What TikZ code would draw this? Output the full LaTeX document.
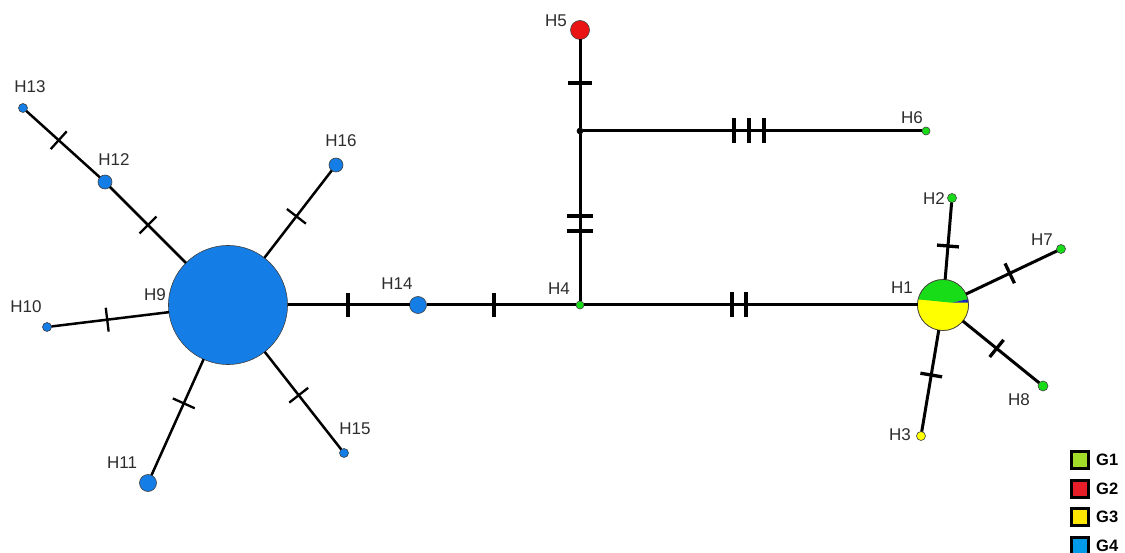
\documentclass[tikz,border=0pt]{standalone}
\usepackage{fontspec}
\setmainfont{Liberation Sans}
\usetikzlibrary{calc}
\definecolor{cgreen}{RGB}{25,220,25}
\definecolor{cyellow}{RGB}{255,255,0}
\definecolor{cblue}{RGB}{20,125,230}
\definecolor{cred}{RGB}{235,20,20}
\definecolor{csliver}{RGB}{20,40,190}
\definecolor{lgA}{RGB}{160,220,40}
\definecolor{lgB}{RGB}{230,30,40}
\definecolor{lgC}{RGB}{255,230,0}
\definecolor{lgD}{RGB}{0,155,230}
\definecolor{txt}{RGB}{45,45,45}
\tikzset{
  hap/.style={circle, inner sep=0pt, outer sep=0pt, draw=black!75, line width=0.6pt, minimum size=#1},
  lbl/.style={text=txt, inner sep=0pt, font=\fontsize{17}{20}\selectfont},
  edgemain/.style={line width=3pt, black},
  edgethin/.style={line width=2.5pt, black},
  tickmain/.style={line width=3.3pt, black},
  tickthin/.style={line width=2.3pt, black},
  legbox/.style={rectangle, inner sep=0pt, minimum size=17pt, draw=black, line width=3pt},
  legtxt/.style={text=black, inner sep=0pt, font=\fontsize{16.5}{18}\selectfont\bfseries},
}
% #1 style, #2 half length, #3 node a, #4 node b, #5 approximate point
\newcommand{\tk}[5]{%
  \coordinate (tkp) at ($(#3)!(#5)!(#4)$);
  \draw[#1] ($(tkp)!#2!90:(#4)$) -- ($(tkp)!#2!-90:(#4)$);}
\begin{document}
\begin{tikzpicture}[x=1pt,y=-1pt]
\fill[white] (0,0) rectangle (1125,553);
\useasboundingbox (0,0) rectangle (1125,553);

% haplotype nodes
\node[hap=119pt, fill=cblue] (H9) at (228,305) {};
\node[hap=17pt, fill=cblue] (H14) at (418,305) {};
\node[hap=8pt, fill=cgreen] (H4) at (580,305) {};
\node[hap=6pt, fill=black, draw=black] (J) at (580,131) {};
\node[hap=19pt, fill=cred] (H5) at (580,30) {};
\node[hap=8pt, fill=cgreen] (H6) at (926,131) {};
\node[hap=51pt] (H1) at (943,305) {};
\node[hap=9pt, fill=cgreen] (H2) at (952,198) {};
\node[hap=9pt, fill=cgreen] (H7) at (1061,249) {};
\node[hap=10pt, fill=cgreen] (H8) at (1043,386) {};
\node[hap=9pt, fill=cyellow] (H3) at (921,436) {};
\node[hap=9pt, fill=cblue] (H13) at (23,108) {};
\node[hap=14pt, fill=cblue] (H12) at (105,182) {};
\node[hap=14pt, fill=cblue] (H16) at (336,165) {};
\node[hap=9pt, fill=cblue] (H10) at (47,327) {};
\node[hap=17pt, fill=cblue] (H11) at (148,483) {};
\node[hap=9pt, fill=cblue] (H15) at (344,453) {};

% pie chart of H1
\begin{scope}
  \clip (H1.center) circle (25.5pt);
  \fill[cyellow] (H1.center) circle (27pt);
  \fill[cgreen] ($(H1.center)+(-30,-6.1)$) -- ($(H1.center)+(8.9,-2.3)$) -- ($(H1.center)+(30,-7)$)
     -- ($(H1.center)+(30,-30)$) -- ($(H1.center)+(-30,-30)$) -- cycle;
  \fill[csliver] ($(H1.center)+(8.9,-2.3)$) -- ($(H1.center)+(30,-7)$) -- ($(H1.center)+(30,-2.3)$) -- cycle;
\end{scope}
\draw[black!75, line width=0.7pt] (H1.center) circle (25.5pt);

% connectors
\draw[edgemain] (H9) -- (H14);
\draw[edgemain] (H14) -- (H4);
\draw[edgemain] (H4) -- (H1);
\draw[edgemain] (H4) -- (J);
\draw[edgemain] (J) -- (H5);
\draw[edgemain] (J) -- (H6);
\draw[edgemain] (H1) -- (H2);
\draw[edgemain] (H1) -- (H7);
\draw[edgemain] (H1) -- (H8);
\draw[edgemain] (H1) -- (H3);
\draw[edgethin] (H13) -- (H12);
\draw[edgethin] (H12) -- (H9);
\draw[edgethin] (H9) -- (H16);
\draw[edgethin] (H9) -- (H10);
\draw[edgethin] (H9) -- (H11);
\draw[edgethin] (H9) -- (H15);

% mutation ticks
\tk{tickmain}{12pt}{H9}{H14}{348,305}
\tk{tickmain}{12pt}{H14}{H4}{494,305}
\tk{tickmain}{12.5pt}{H4}{H1}{732,305}
\tk{tickmain}{12.5pt}{H4}{H1}{746,305}
\tk{tickmain}{13pt}{H4}{J}{580,216}
\tk{tickmain}{13pt}{H4}{J}{580,231}
\tk{tickmain}{12pt}{J}{H5}{580,83}
\tk{tickmain}{12.5pt}{J}{H6}{734,131}
\tk{tickmain}{12.5pt}{J}{H6}{749,131}
\tk{tickmain}{12.5pt}{J}{H6}{764,131}
\tk{tickmain}{11pt}{H1}{H2}{948,246}
\tk{tickmain}{11pt}{H1}{H7}{1011,276}
\tk{tickmain}{11pt}{H1}{H8}{997,348}
\tk{tickmain}{11pt}{H1}{H3}{931,375}
\tk{tickthin}{12pt}{H13}{H12}{58,141}
\tk{tickthin}{12pt}{H12}{H9}{148,225}
\tk{tickthin}{12pt}{H9}{H16}{296,216}
\tk{tickthin}{12pt}{H9}{H10}{107,318}
\tk{tickthin}{12pt}{H9}{H11}{183,403}
\tk{tickthin}{12pt}{H9}{H15}{299,395}

% labels
\node[lbl] (lH13) at (30,87) {H13};
\node[lbl] (lH12) at (114,160) {H12};
\node[lbl] (lH16) at (341,141) {H16};
\node[lbl] (lH9) at (155,295) {H9};
\node[lbl] (lH10) at (26,307) {H10};
\node[lbl] (lH11) at (122,463) {H11};
\node[lbl] (lH15) at (355,429) {H15};
\node[lbl] (lH14) at (397,284) {H14};
\node[lbl] (lH4) at (559,289) {H4};
\node[lbl] (lH5) at (556,21) {H5};
\node[lbl] (lH6) at (912,118) {H6};
\node[lbl] (lH1) at (902,288) {H1};
\node[lbl] (lH2) at (934,199) {H2};
\node[lbl] (lH7) at (1042,240) {H7};
\node[lbl] (lH8) at (1019,400) {H8};
\node[lbl] (lH3) at (900,435) {H3};

% legend
\node[legbox, fill=lgA] (g1) at (1080,460) {};
\node[legbox, fill=lgB] (g2) at (1080,489) {};
\node[legbox, fill=lgC] (g3) at (1080,517) {};
\node[legbox, fill=lgD] (g4) at (1080,546) {};
\node[legtxt, anchor=west] (tg1) at (1096,460) {G1};
\node[legtxt, anchor=west] (tg2) at (1096,489) {G2};
\node[legtxt, anchor=west] (tg3) at (1096,517) {G3};
\node[legtxt, anchor=west] (tg4) at (1096,546) {G4};
\end{tikzpicture}
\end{document}
